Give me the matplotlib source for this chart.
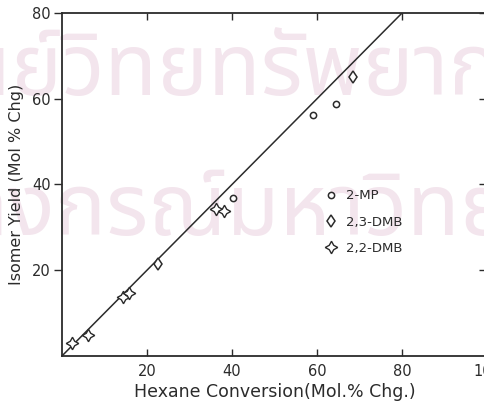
import matplotlib
matplotlib.use('Agg')
import matplotlib.pyplot as plt
from matplotlib.lines import Line2D

# values
mp_conv = [40.2, 59.1, 64.5]
mp_yield = [36.8, 56.2, 58.7]
dmb23_conv = [22.6, 68.5]
dmb23_yield = [21.4, 65.0]
dmb22_conv = [2.4, 6.2, 14.4, 15.8, 36.2, 38.1]
dmb22_yield = [3.0, 4.9, 13.8, 14.7, 34.3, 33.8]
fit_conv = [0, 82]
fit_yield = [0, 82]

x_ticks = [20, 40, 60, 80, 100]
y_ticks = [20, 40, 60, 80]

# watermark of the scanned thesis page
wm_lines = [('ศูนย์', 'วิทยทรัพยากร'), ('จุฬาลง', 'กรณ์มหาวิทยาลัย')]

ink = '#2b2b2b'
wm_color = '#f3e5ed'
plt.rcParams['font.family'] = ['DejaVu Sans']

W, H = 485, 409
fig = plt.figure(figsize=(4.85, 4.09), dpi=100)
ax = fig.add_axes([0.128, 0.13, 0.876, 0.838])
ax.patch.set_alpha(0)
ax.set_zorder(2)  # keep the chart above the watermark

# place the watermark so the visible part starts where it does on the scan
renderer = fig.canvas.get_renderer()
wm_font = dict(fontsize=62, family=['Noto Sans Thai', 'Loma', 'DejaVu Sans'])
for (hidden, shown), x_px, base_px in zip(wm_lines, [62, 55], [95, 235]):
    probe = fig.text(0, 0, hidden, **wm_font)
    shift = probe.get_window_extent(renderer).width
    probe.remove()
    fig.text((x_px - shift) / W, 1 - base_px / H, hidden + shown,
             color=wm_color, ha='left', va='baseline', zorder=0, **wm_font)

ax.plot(fit_conv, fit_yield, color=ink, lw=1.1, zorder=2)
ax.plot(mp_conv, mp_yield, ls='none', marker='o', ms=4.5, mfc='white',
        mec=ink, mew=1.1, zorder=3)
ax.plot(dmb23_conv, dmb23_yield, ls='none', marker='d', ms=6, mfc='white',
        mec=ink, mew=1.1, zorder=3)
ax.plot(dmb22_conv, dmb22_yield, ls='none', marker=(4, 1, 0), ms=9,
        mfc='white', mec=ink, mew=1.0, zorder=3)

ax.set_xlim(0, 100)
ax.set_ylim(0, 80)
ax.set_xticks(x_ticks)
ax.set_yticks(y_ticks)
ax.tick_params(axis='x', direction='in', length=5, width=1, top=True,
               labelsize=10.5, colors=ink, pad=6)
ax.tick_params(axis='y', direction='out', length=6, width=1,
               labelsize=10.5, colors=ink, pad=2)
ax.tick_params(axis='y', which='both', right=True)
for t in ax.yaxis.get_ticklines()[1::2]:
    t.set_marker(0)
for sp in ax.spines.values():
    sp.set_color(ink)
    sp.set_linewidth(1.3)

ax.set_xlabel('Hexane Conversion(Mol.% Chg.)', fontsize=12.5, color=ink,
              labelpad=3)
ax.set_ylabel('Isomer Yield (Mol % Chg)', fontsize=11.5, color=ink,
              labelpad=6)

handles = [
    Line2D([], [], ls='none', marker='o', ms=4.5, mfc='white', mec=ink, mew=1.1),
    Line2D([], [], ls='none', marker='d', ms=6, mfc='white', mec=ink, mew=1.1),
    Line2D([], [], ls='none', marker=(4, 1, 0), ms=9, mfc='white', mec=ink, mew=1.0),
]
ax.legend(handles, ['2-MP', '2,3-DMB', '2,2-DMB'], frameon=False,
          loc='upper left', bbox_to_anchor=(0.59, 0.52), fontsize=9.5,
          handlelength=1.0, handletextpad=0.6, labelspacing=1.0,
          labelcolor=ink)

plt.savefig('out.png', dpi=100)
